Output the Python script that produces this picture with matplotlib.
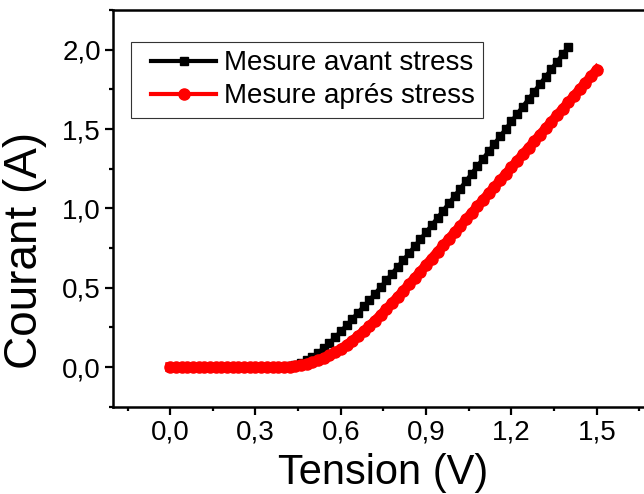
import numpy as np
import matplotlib
matplotlib.use("Agg")
import matplotlib.pyplot as plt
from matplotlib.ticker import MultipleLocator, FuncFormatter
from matplotlib.legend_handler import HandlerLine2D

plt.rcParams['font.family'] = ['Liberation Sans', 'DejaVu Sans']

# Voltage sweep settings (V): start, stop, step of the measurement
V_START = 0.0
V_STOP_AVANT = 1.40
V_STOP_APRES = 1.50

# Current before stress (A), one value per 0.02 V step
courant_avant = [
    0.0, 0.0, 0.0, 0.0, 0.0, 0.0, 0.0, 0.0, 0.0, 0.0,
    0.0, 0.0, 0.0, 0.0, 0.0, 0.0, 0.0, 0.0, 0.0, 0.0,
    0.0, 0.005, 0.012, 0.025, 0.042, 0.064, 0.09, 0.12, 0.153, 0.188,
    0.225, 0.263, 0.302, 0.342, 0.382, 0.42, 0.462, 0.504, 0.546, 0.589,
    0.632, 0.675, 0.718, 0.762, 0.806, 0.850, 0.895, 0.94, 0.986, 1.032,
    1.078, 1.125, 1.172, 1.219, 1.266, 1.313, 1.360, 1.407, 1.454, 1.501,
    1.548, 1.595, 1.642, 1.689, 1.736, 1.783, 1.830, 1.877, 1.924, 1.971,
    2.018,
]

# Current after stress (A), one value per 0.02 V step
courant_apres = [
    0.0, 0.0, 0.0, 0.0, 0.0, 0.0, 0.0, 0.0, 0.0, 0.0,
    0.0, 0.0, 0.0, 0.0, 0.0, 0.0, 0.0, 0.0, 0.0, 0.0,
    0.0, 0.003, 0.007, 0.012, 0.02, 0.03, 0.042, 0.056, 0.073, 0.092,
    0.114, 0.138, 0.165, 0.194, 0.225, 0.258, 0.292, 0.328, 0.365, 0.403,
    0.442, 0.481, 0.521, 0.561, 0.602, 0.643, 0.684, 0.725, 0.766, 0.807,
    0.848, 0.889, 0.930, 0.971, 1.012, 1.053, 1.094, 1.135, 1.176, 1.217,
    1.258, 1.299, 1.340, 1.381, 1.422, 1.463, 1.504, 1.545, 1.586, 1.627,
    1.668, 1.709, 1.750, 1.791, 1.832, 1.873,
]

labels = ['Mesure avant stress', 'Mesure aprés stress']

tension_avant = np.linspace(V_START, V_STOP_AVANT, len(courant_avant))
tension_apres = np.linspace(V_START, V_STOP_APRES, len(courant_apres))


def comma(x, pos):
    # French decimal separator
    return f"{x:.1f}".replace('.', ',')


fig = plt.figure(figsize=(6.44, 4.94), dpi=100)
# axes run past the right edge, as in the original export
ax = fig.add_axes([0.1759, 0.1767, 0.848, 0.803])

ax.plot(tension_avant, courant_avant, color='black', lw=3, marker='s',
        markersize=6.3, label=labels[0])
ax.plot(tension_apres, courant_apres, color='red', lw=7, marker='o',
        markersize=8, label=labels[1])

ax.set_xlim(-0.2, 1.72)
ax.set_ylim(-0.25, 2.25)

ax.xaxis.set_major_locator(MultipleLocator(0.3))
ax.xaxis.set_minor_locator(MultipleLocator(0.15))
ax.yaxis.set_major_locator(MultipleLocator(0.5))
ax.yaxis.set_minor_locator(MultipleLocator(0.25))
ax.xaxis.set_major_formatter(FuncFormatter(comma))
ax.yaxis.set_major_formatter(FuncFormatter(comma))

for s in ax.spines.values():
    s.set_linewidth(1.8)

ax.tick_params(which='both', direction='out', width=1.6, labelsize=20,
               top=False, right=False)
ax.tick_params(which='major', length=6, pad=3)
ax.tick_params(which='minor', length=3)

ax.set_xlabel('Tension (V)', fontsize=30)
ax.set_ylabel('Courant (A)', fontsize=33)
ax.xaxis.set_label_coords(0.494, -0.1165)
ax.yaxis.set_label_coords(-0.121, 0.395)

hmap = {line: HandlerLine2D(xpad=0.44) for line in ax.get_lines()}
leg = ax.legend(loc='upper left', bbox_to_anchor=(130.5 / 644, 1 - 42 / 494),
                bbox_transform=fig.transFigure, borderaxespad=0,
                fontsize=20, numpoints=1, handlelength=2.78,
                handletextpad=0.29, labelspacing=0.25, borderpad=0.3,
                fancybox=False, framealpha=1, handler_map=hmap)
leg.get_frame().set_edgecolor('#333333')
leg.get_frame().set_linewidth(0.8)
# legend lines are thinner than the dense red trace
for h in leg.get_lines():
    h.set_linewidth(3)

plt.savefig('out.png', dpi=100)
